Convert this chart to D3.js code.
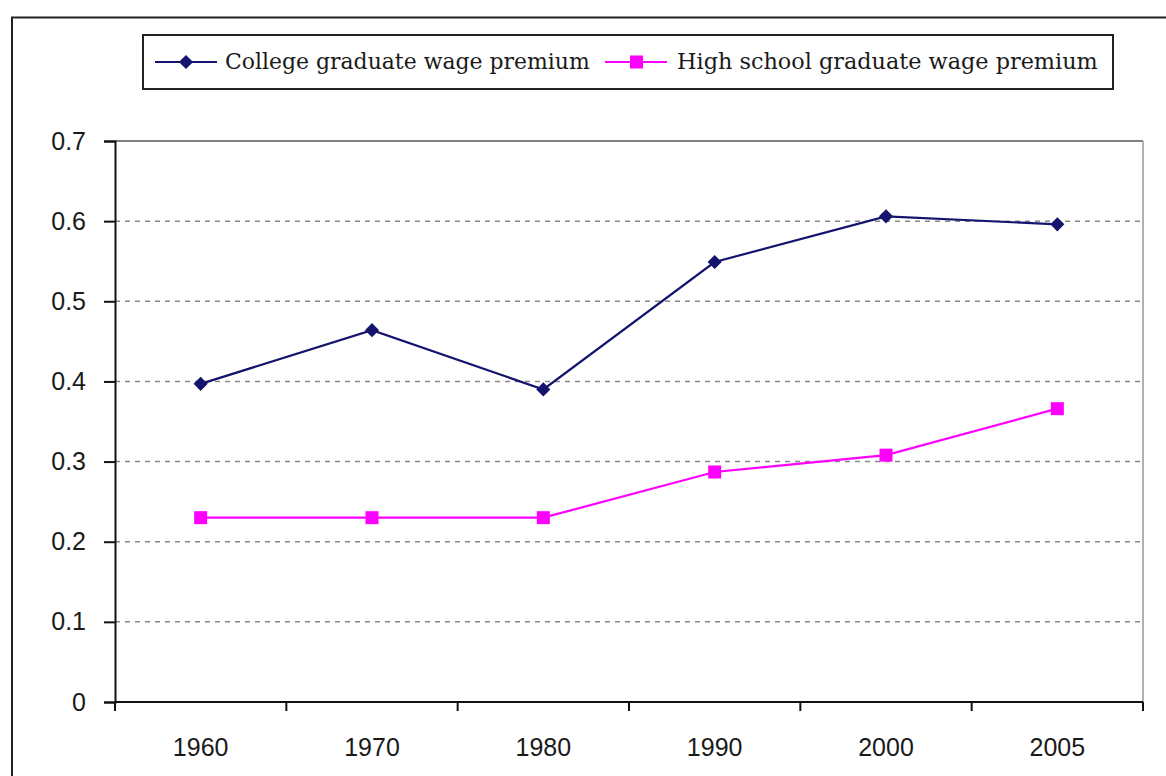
<!DOCTYPE html>
<html>
<head>
<meta charset="utf-8">
<script src="https://cdn.jsdelivr.net/npm/d3@7"></script>
<style>
  html, body { margin: 0; padding: 0; background: #fff; }
  svg { display: block; }
</style>
</head>
<body>
<svg id="chart" width="1166" height="776"></svg>
<script>
// Wage premium by year
const years = ["1960", "1970", "1980", "1990", "2000", "2005"];
const collegePremium = [0.397, 0.464, 0.390, 0.549, 0.606, 0.596];
const highSchoolPremium = [0.230, 0.230, 0.230, 0.287, 0.308, 0.366];
const yTicks = [0, 0.1, 0.2, 0.3, 0.4, 0.5, 0.6, 0.7];
const seriesNames = ["College graduate wage premium", "High school graduate wage premium"];

const svg = d3.select("#chart");
const margin = { left: 115, top: 141, right: 1143, bottom: 702 };

// outer frame
svg.append("path")
  .attr("d", `M12,776 L12,17.5 L1166,17.5`)
  .attr("fill", "none").attr("stroke", "#222").attr("stroke-width", 2);

const x = d3.scaleBand().domain(years).range([margin.left, margin.right]);
const y = d3.scaleLinear().domain([0, 0.7]).range([margin.bottom, margin.top]);

// plot frame (top and right)
svg.append("line").attr("x1", margin.left).attr("x2", margin.right)
  .attr("y1", margin.top).attr("y2", margin.top)
  .attr("stroke", "#555").attr("stroke-width", 1.5);
svg.append("line").attr("x1", margin.right).attr("x2", margin.right)
  .attr("y1", margin.top).attr("y2", margin.bottom)
  .attr("stroke", "#999").attr("stroke-width", 1.5);

// dashed gridlines
svg.append("g").selectAll("line")
  .data(yTicks.filter(t => t > 0 && t < 0.7))
  .join("line")
  .attr("x1", margin.left).attr("x2", margin.right)
  .attr("y1", d => y(d)).attr("y2", d => y(d))
  .attr("stroke", "#888").attr("stroke-width", 1.5)
  .attr("stroke-dasharray", "5,5");

const tickFont = "'Liberation Sans', Arial, sans-serif";

// y axis
const yAxis = svg.append("g")
  .attr("transform", `translate(${margin.left},0)`)
  .call(d3.axisLeft(y).tickValues(yTicks).tickFormat(d => d === 0 ? "0" : d3.format(".1f")(d)).tickSize(11).tickPadding(18));
yAxis.select(".domain").attr("stroke", "#111").attr("stroke-width", 2);
yAxis.selectAll(".tick line").attr("stroke", "#111").attr("stroke-width", 2);
yAxis.selectAll(".tick text")
  .attr("font-family", tickFont).attr("font-size", 25).attr("fill", "#1a1a1a");

// x axis, ticks at band boundaries
const xAxisG = svg.append("g").attr("transform", `translate(0,${margin.bottom})`);
xAxisG.append("line").attr("x1", margin.left).attr("x2", margin.right)
  .attr("stroke", "#111").attr("stroke-width", 2);
const boundaries = years.map(d => x(d)).concat([x(years[years.length - 1]) + x.bandwidth()]);
xAxisG.selectAll("line.tk").data(boundaries).join("line").attr("class", "tk")
  .attr("x1", d => d).attr("x2", d => d).attr("y1", 0).attr("y2", 9)
  .attr("stroke", "#111").attr("stroke-width", 2);
xAxisG.selectAll("text").data(years).join("text")
  .attr("x", d => x(d) + x.bandwidth() / 2).attr("y", 54)
  .attr("text-anchor", "middle")
  .attr("font-family", tickFont).attr("font-size", 25).attr("fill", "#1a1a1a")
  .text(d => d);

const cx = d => x(d) + x.bandwidth() / 2;
const lineGen = d3.line().x(d => cx(d.year)).y(d => y(d.value));

const collegeData = years.map((yr, i) => ({ year: yr, value: collegePremium[i] }));
const hsData = years.map((yr, i) => ({ year: yr, value: highSchoolPremium[i] }));

const navy = "#14146e";
const magenta = "#ff00ff";

svg.append("path").datum(collegeData).attr("d", lineGen)
  .attr("fill", "none").attr("stroke", navy).attr("stroke-width", 2.2);
svg.append("path").datum(hsData).attr("d", lineGen)
  .attr("fill", "none").attr("stroke", magenta).attr("stroke-width", 2.2);

// diamond marker: a square turned 45 degrees
const diamond = d3.symbol().type(d3.symbolSquare).size(100);
svg.append("g").selectAll("path").data(collegeData).join("path")
  .attr("transform", d => `translate(${cx(d.year)},${y(d.value)}) rotate(45)`)
  .attr("d", diamond).attr("fill", navy);

svg.append("g").selectAll("rect").data(hsData).join("rect")
  .attr("x", d => cx(d.year) - 6.5).attr("y", d => y(d.value) - 6.5)
  .attr("width", 13).attr("height", 13).attr("fill", magenta);

// legend
const legend = svg.append("g");
legend.append("rect").attr("x", 143).attr("y", 35).attr("width", 970).attr("height", 54)
  .attr("fill", "#fff").attr("stroke", "#222").attr("stroke-width", 2);

const legendFont = "'DejaVu Serif', 'Liberation Serif', serif";
const items = [
  { name: seriesNames[0], color: navy, lx: 155, tx: 225, tw: 365, marker: "diamond" },
  { name: seriesNames[1], color: magenta, lx: 605, tx: 677, tw: 421, marker: "square" }
];
items.forEach(it => {
  const ly = 62;
  legend.append("line").attr("x1", it.lx).attr("x2", it.lx + 62)
    .attr("y1", ly).attr("y2", ly).attr("stroke", it.color).attr("stroke-width", 2);
  if (it.marker === "diamond") {
    legend.append("path").attr("transform", `translate(${it.lx + 31},${ly}) rotate(45)`)
      .attr("d", diamond).attr("fill", it.color);
  } else {
    legend.append("rect").attr("x", it.lx + 25).attr("y", ly - 6.5)
      .attr("width", 13).attr("height", 13).attr("fill", it.color);
  }
  const t = legend.append("text").attr("x", it.tx).attr("y", ly + 7)
    .attr("font-family", legendFont).attr("font-size", 22).attr("fill", "#1a1a1a")
    .text(it.name);
  const w = t.node().getComputedTextLength();
  t.attr("font-size", 22 * it.tw / w);
});
</script>
</body>
</html>
